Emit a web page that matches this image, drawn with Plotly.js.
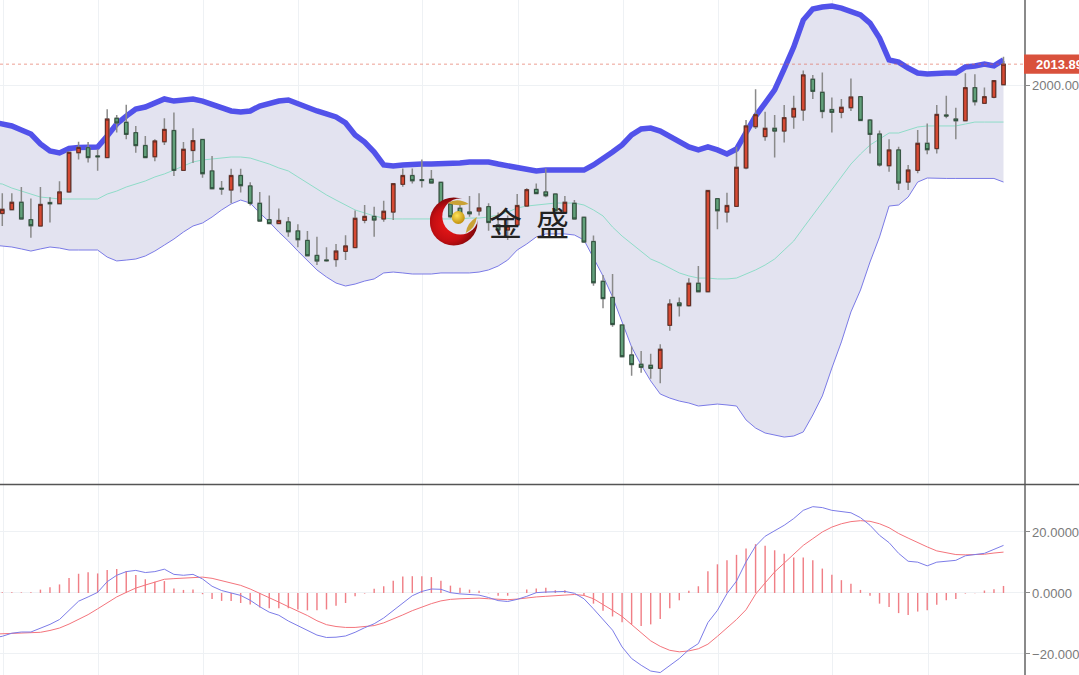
<!DOCTYPE html>
<html>
<head>
<meta charset="utf-8">
<script src="https://cdn.plot.ly/plotly-3.0.1.min.js"></script>
<style>html,body{margin:0;padding:0;background:#fff;overflow:hidden}#chart{width:1079px;height:675px}</style>
</head>
<body>
<div id="chart"></div>
<script>
const openPrice = [1914.4,1916.9,1921.8,1910.2,1906.0,1921.6,1920.9,1928.7,1954.9,1958.2,1952.7,1951.6,1977.8,1975.1,1968.2,1959.6,1952.2,1962.2,1969.6,1943.1,1956.4,1963.6,1942.7,1931.1,1930.0,1939.6,1932.7,1921.1,1910.2,1907.6,1908.7,1902.7,1896.4,1886.4,1883.3,1883.6,1889.1,1891.6,1909.8,1912.4,1910.7,1915.3,1933.8,1939.6,1936.9,1937.1,1935.1,1920.7,1917.8,1915.3,1916.0,1918.9,1906.7,1903.3,1906.7,1919.3,1930.4,1928.7,1927.3,1914.9,1921.1,1911.8,1895.6,1869.1,1858.4,1840.0,1820.0,1813.8,1813.1,1811.1,1839.8,1854.7,1852.9,1867.8,1862.2,1924.2,1915.3,1919.1,1944.7,1972.2,1965.6,1971.1,1969.3,1978.7,1983.3,2003.8,1995.1,1983.6,1981.8,1984.9,1992.2,1976.6,1967.3,1946.2,1956.7,1935.3,1943.1,1961.1,1957.6,1980.0,1977.3,1976.2,1998.2,1987.8,1991.8,2000.2];
const highPrice = [1927.8,1927.8,1932.0,1924.4,1932.0,1925.1,1935.8,1955.1,1962.2,1962.0,1957.1,1983.8,1980.0,1986.9,1972.7,1966.0,1963.8,1977.8,1981.6,1962.0,1971.1,1964.0,1952.7,1936.0,1944.2,1944.2,1935.1,1928.7,1926.4,1917.6,1912.0,1907.1,1902.7,1898.9,1891.8,1894.0,1899.8,1916.4,1920.0,1918.9,1922.9,1934.2,1944.4,1944.4,1950.4,1943.3,1935.6,1922.9,1921.0,1926.0,1927.8,1921.1,1915.0,1913.0,1927.3,1931.1,1934.4,1944.4,1927.8,1926.0,1923.3,1912.0,1899.6,1873.3,1874.0,1840.2,1825.6,1822.7,1820.9,1827.1,1857.1,1858.4,1871.1,1879.3,1929.6,1924.4,1928.2,1958.9,1976.7,1997.1,1982.2,1980.0,1986.7,1992.9,2009.6,2006.7,2008.4,1991.6,1990.7,2004.4,1992.4,1977.3,1969.6,1963.8,1958.9,1946.7,1970.0,1974.4,1986.7,1992.9,1984.9,2007.8,2007.1,1998.4,2003.3,2018.9];
const lowPrice = [1906.0,1916.7,1910.4,1898.2,1905.6,1908.4,1920.4,1928.7,1950.4,1948.4,1942.9,1951.6,1968.4,1963.8,1954.9,1951.3,1949.1,1960.0,1939.3,1943.1,1948.0,1938.2,1930.7,1926.9,1921.1,1928.4,1919.6,1909.3,1907.3,1907.1,1898.9,1891.8,1886.0,1880.0,1882.2,1878.9,1883.3,1891.6,1907.8,1898.9,1908.9,1910.0,1932.2,1934.4,1931.6,1934.4,1920.0,1911.1,1910.0,1912.2,1913.0,1902.9,1901.0,1896.7,1906.7,1918.9,1927.1,1925.1,1915.6,1914.9,1910.4,1894.9,1866.2,1851.1,1838.9,1818.9,1806.2,1808.2,1804.2,1801.1,1836.2,1845.6,1852.2,1862.2,1862.2,1903.8,1908.4,1919.1,1943.8,1970.7,1962.9,1951.6,1961.6,1970.9,1976.2,1990.7,1977.8,1968.4,1977.8,1982.7,1976.2,1954.4,1945.6,1942.2,1930.0,1930.0,1941.1,1953.8,1954.4,1977.8,1963.8,1976.2,1986.4,1987.8,1991.1,2000.2];
const closePrice = [1917.1,1921.8,1910.7,1906.2,1920.4,1920.9,1928.7,1955.1,1958.4,1951.6,1952.2,1977.3,1974.7,1967.1,1959.6,1951.6,1962.7,1970.4,1943.1,1957.1,1962.9,1940.9,1930.9,1930.7,1939.6,1932.9,1921.1,1909.3,1907.6,1909.6,1902.2,1896.9,1886.2,1882.7,1882.9,1889.3,1892.7,1911.1,1912.4,1910.0,1915.8,1934.2,1939.6,1936.2,1936.4,1934.7,1921.1,1912.2,1914.4,1914.2,1918.0,1908.4,1903.3,1906.0,1919.6,1930.2,1927.6,1926.2,1916.2,1921.8,1910.7,1895.3,1868.2,1857.6,1840.4,1818.9,1813.6,1811.8,1811.1,1823.8,1854.0,1852.9,1867.8,1862.2,1929.6,1916.2,1919.6,1945.1,1972.7,1980.2,1971.1,1969.3,1978.2,1984.4,2006.7,1995.8,1982.4,1981.8,1985.1,1992.0,1976.4,1967.1,1946.7,1956.7,1934.7,1943.3,1961.1,1956.9,1980.4,1979.4,1976.2,1998.2,1988.9,1992.2,2002.9,2013.89];

// Indicator series begin one bar before the first visible candle.
const upperBand = [1975.3,1974.0,1972.7,1970.0,1967.3,1960.7,1956.0,1954.7,1957.7,1958.3,1958.7,1958.7,1966.0,1974.0,1979.3,1984.0,1985.3,1988.0,1990.7,1989.3,1990.0,1990.7,1989.3,1987.3,1984.7,1982.7,1982.0,1982.7,1986.0,1988.0,1989.3,1990.0,1987.3,1984.7,1982.7,1980.7,1978.7,1974.7,1966.7,1962.0,1955.3,1946.7,1946.0,1946.7,1947.3,1947.3,1947.3,1947.3,1947.3,1948.0,1948.7,1948.7,1948.7,1947.3,1946.0,1944.7,1944.0,1942.7,1943.3,1943.3,1943.3,1943.3,1943.3,1946.7,1950.7,1955.3,1960.0,1966.7,1970.7,1971.3,1969.3,1966.0,1962.0,1958.7,1956.7,1958.7,1956.7,1954.0,1957.3,1968.7,1979.3,1988.0,1996.7,2010.7,2025.3,2043.3,2050.7,2052.0,2052.7,2051.3,2048.7,2046.7,2041.3,2031.3,2016.7,2015.3,2011.3,2008.0,2007.3,2008.0,2008.0,2008.0,2012.0,2012.7,2014.0,2012.7,2016.7];
const middleBand = [1934.7,1934.0,1931.3,1929.3,1927.3,1925.3,1924.7,1924.0,1924.0,1924.0,1924.0,1924.0,1927.3,1929.3,1932.0,1934.0,1936.0,1938.7,1940.7,1943.3,1946.0,1948.7,1950.0,1950.7,1951.3,1952.0,1952.0,1951.3,1949.3,1947.3,1944.7,1942.7,1938.7,1934.7,1930.7,1926.7,1923.3,1920.0,1916.7,1914.7,1912.7,1911.3,1910.7,1910.7,1910.7,1910.7,1910.7,1910.7,1910.7,1910.7,1911.3,1911.3,1912.0,1913.3,1915.3,1918.0,1919.3,1920.0,1920.7,1921.3,1921.3,1921.3,1920.0,1916.7,1912.7,1905.3,1899.3,1894.0,1888.7,1884.0,1881.3,1878.0,1874.7,1872.7,1871.3,1871.3,1870.7,1870.7,1871.3,1874.0,1876.7,1880.0,1884.0,1890.0,1896.0,1904.7,1913.3,1921.3,1930.0,1938.7,1947.3,1954.0,1960.0,1964.0,1968.0,1968.0,1970.0,1972.0,1972.7,1972.7,1972.7,1972.7,1974.0,1975.3,1975.3,1975.3,1975.3];
const lowerBand = [1893.3,1892.7,1892.0,1890.7,1889.3,1890.7,1892.0,1891.3,1890.0,1890.0,1890.0,1890.0,1885.3,1882.7,1883.3,1884.0,1886.0,1889.3,1893.3,1897.3,1902.0,1906.0,1908.0,1912.0,1916.7,1920.7,1923.3,1921.3,1914.7,1908.7,1902.0,1896.0,1889.3,1882.7,1876.7,1872.0,1868.0,1866.0,1867.3,1869.3,1870.7,1874.7,1875.3,1874.7,1874.0,1874.0,1874.0,1874.7,1874.7,1874.7,1874.7,1875.3,1876.7,1879.3,1883.3,1890.0,1894.0,1898.7,1900.7,1900.7,1900.7,1900.0,1896.7,1884.7,1872.7,1858.7,1841.3,1825.3,1813.3,1802.7,1794.0,1791.3,1789.3,1788.0,1786.0,1786.7,1787.3,1786.7,1786.0,1776.7,1771.3,1768.0,1766.7,1765.3,1766.0,1768.7,1780.0,1792.7,1811.3,1828.7,1848.7,1863.3,1882.0,1898.7,1919.3,1920.0,1925.3,1935.3,1938.0,1937.7,1937.7,1937.7,1937.7,1937.7,1937.7,1937.7,1935.3];

const macdBars = [0.2,0.2,0.2,0.2,1.1,1.9,2.8,4.9,6.3,6.8,6.4,7.5,7.9,7.2,5.9,4.5,3.7,3.9,1.5,1.0,1.1,-0.4,-2.0,-2.6,-2.6,-3.3,-3.8,-4.8,-5.0,-5.0,-5.0,-5.4,-5.7,-5.7,-5.4,-4.2,-3.3,-1.1,-0.2,1.4,2.2,4.0,5.4,5.5,5.5,5.2,4.0,2.4,1.7,1.1,0.7,-0.1,-0.9,-0.9,-0.1,1.1,1.5,1.7,0.9,0.9,0,-0.8,-3.5,-5.8,-7.7,-9.6,-10.3,-10.8,-10.3,-8.5,-5.0,-2.4,0.7,2.2,7.1,9.4,10.7,12.5,14.6,16.0,15.5,14.0,12.9,11.6,11.6,10.7,8.0,6.0,4.2,3.0,1.0,-0.9,-3.5,-4.6,-6.6,-7.2,-6.1,-5.7,-3.9,-2.4,-2.0,-0.2,-0.1,0.8,1.2,2.3];
const difLine = [-14.8,-14.2,-13.2,-12.8,-12.8,-11.6,-10.3,-8.7,-5.6,-2.7,-1.3,0.2,3.7,5.8,7.0,7.4,6.7,7.0,7.8,6.1,5.8,6.1,4.6,2.2,0.8,-0.1,-0.8,-2.4,-4.5,-6.3,-7.3,-9.2,-10.7,-12.3,-13.8,-14.6,-14.5,-14.1,-12.9,-11.4,-10.1,-8.2,-5.7,-3.1,-0.9,0.5,1.3,1.2,0.1,-0.3,-0.5,-0.7,-1.5,-2.5,-2.8,-2.1,-1.1,0.1,0.3,0.4,0.5,-0.1,-1.9,-5.2,-8.7,-12.2,-17.7,-21.5,-23.7,-25.6,-26.1,-23.8,-21.5,-18.6,-16.6,-9.7,-5.7,-0.2,3.9,10.2,15.4,18.6,20.3,22.2,24.4,27.1,28.3,28.0,27.1,26.7,26.3,24.7,22.2,18.9,16.5,13.0,10.4,10.1,8.9,10.1,10.4,10.7,12.2,12.7,13.0,14.3,15.6];
const deaLine = [-13.5,-13.4,-13.2,-13.1,-13.0,-12.9,-12.3,-11.5,-10.2,-8.7,-7.1,-5.2,-3.3,-1.3,0.2,1.6,2.6,3.5,4.5,4.7,4.8,5.0,5.2,4.8,4.0,3.4,2.5,1.3,-0.1,-1.4,-3.0,-4.5,-5.9,-7.4,-9.1,-10.4,-11.0,-11.3,-11.3,-11.1,-10.7,-9.8,-8.6,-7.2,-5.8,-4.6,-3.5,-2.6,-2.1,-1.9,-1.7,-1.7,-1.9,-2.1,-2.2,-2.0,-1.6,-1.3,-1.1,-0.8,-0.7,-0.5,-0.8,-1.9,-3.7,-5.7,-7.7,-10.3,-13.1,-15.7,-17.5,-18.8,-19.3,-19.0,-18.3,-16.8,-14.2,-11.5,-8.7,-5.5,-0.4,3.3,6.9,9.8,12.7,15.6,17.8,20.0,21.6,22.7,23.4,23.7,23.5,22.7,21.4,19.5,18.0,16.5,15.1,13.8,13.1,12.6,12.5,12.6,12.7,13.1,13.4];

const gridBars = [0.1,10.1,21.1,31.1,44.1,54.1,65.2,75.1,87.1,97.1];
const priceTicks = [2000];
const macdTicks = [-20,0,20];
const lastPrice = 2013.89;
const brandChars = ["金","盛"];

const barIndex = closePrice.map((_, i) => i);
const lineIndex = upperBand.map((_, i) => i - 1);
const bodyHigh = closePrice.map((c, i) => Math.max(c, openPrice[i]));
const bodyLow = closePrice.map((c, i) => Math.min(c, openPrice[i]));

const W = 1024.5, H = 675;
const px = x => x / W;
const py = y => 1 - y / H;

const logoSvg = `<svg xmlns="http://www.w3.org/2000/svg" width="96" height="98" viewBox="0 0 48 49">
<defs>
<radialGradient id="r" cx="0.42" cy="0.55" r="0.6"><stop offset="0" stop-color="#f01818"/><stop offset="0.6" stop-color="#c40e12"/><stop offset="1" stop-color="#6e0508"/></radialGradient>
<radialGradient id="g" cx="0.4" cy="0.35" r="0.7"><stop offset="0" stop-color="#ffe45a"/><stop offset="1" stop-color="#bd8a08"/></radialGradient>
<mask id="m"><rect width="48" height="49" fill="#fff"/><circle cx="30.5" cy="19.5" r="18" fill="#000"/></mask>
</defs>
<circle cx="24" cy="24.5" r="24" fill="url(#r)" mask="url(#m)"/>
<circle cx="28.5" cy="20.5" r="6.5" fill="url(#g)"/>
<path d="M18 6 Q28 0 39 7 Q28 10 18 6Z" fill="#c9a235"/>
<path d="M36 36 Q37 26 47 20 Q46 31 36 36Z" fill="#c9a235"/>
</svg>`;

const traces = [
  {type:'scatter',mode:'lines',x:lineIndex,y:lowerBand,line:{color:'#7a7ae6',width:1},xaxis:'x',yaxis:'y',hoverinfo:'skip'},
  {type:'scatter',mode:'lines',x:lineIndex,y:upperBand,fill:'tonexty',fillcolor:'#e3e3f0',line:{color:'#5252ea',width:5.5},xaxis:'x',yaxis:'y',hoverinfo:'skip'},
  {type:'scatter',mode:'lines',x:lineIndex,y:middleBand,line:{color:'#8fdcc8',width:1},xaxis:'x',yaxis:'y',hoverinfo:'skip'},
  {type:'candlestick',x:barIndex,open:openPrice,high:highPrice,low:lowPrice,close:closePrice,whiskerwidth:0,
   increasing:{line:{color:'#8a8a8a',width:1.5},fillcolor:'#8a8a8a'},decreasing:{line:{color:'#8a8a8a',width:1.5},fillcolor:'#8a8a8a'},xaxis:'x',yaxis:'y3',hoverinfo:'skip'},
  {type:'candlestick',x:barIndex,open:openPrice,high:bodyHigh,low:bodyLow,close:closePrice,whiskerwidth:0,
   increasing:{line:{color:'#5f2a22',width:1},fillcolor:'#d64a33'},decreasing:{line:{color:'#2e4f3c',width:1},fillcolor:'#62a07a'},xaxis:'x',yaxis:'y3',hoverinfo:'skip'},
  {type:'bar',x:barIndex,y:macdBars,width:0.15,marker:{color:'#f07f86',line:{width:0}},xaxis:'x',yaxis:'y2',hoverinfo:'skip'},
  {type:'scatter',mode:'lines',x:lineIndex,y:deaLine,line:{color:'#f4747c',width:1},xaxis:'x',yaxis:'y2',hoverinfo:'skip'},
  {type:'scatter',mode:'lines',x:lineIndex,y:difLine,line:{color:'#7c7ce8',width:1},xaxis:'x',yaxis:'y2',hoverinfo:'skip'}
];

const yCommon = {side:'right',anchor:'x',showline:true,linecolor:'#8a8a8a',linewidth:1.5,ticks:'outside',ticklen:4,tickcolor:'#8a8a8a',
  gridcolor:'#eef1f4',gridwidth:1,zeroline:false,ticklabeloverflow:'allow',tickfont:{family:'"Liberation Sans",Arial,sans-serif',size:13,color:'#7a7a7a'},tickmode:'array',fixedrange:true};
const priceRange = [1733.67,2056.67];

const layout = {
  width:1079,height:675,
  margin:{l:0,r:54.5,t:0,b:0,pad:0},
  paper_bgcolor:'#fff',plot_bgcolor:'#fff',
  showlegend:false,hovermode:false,boxgap:0.48,boxmode:'overlay',
  xaxis:{domain:[0,1],range:[-0.24,107.15],anchor:'y2',showticklabels:false,ticks:'',showline:false,zeroline:false,rangeslider:{visible:false},
    tickmode:'array',tickvals:gridBars,gridcolor:'#eef1f4',gridwidth:1,fixedrange:true},
  yaxis:Object.assign({},yCommon,{domain:[py(484.5),1],range:priceRange,tickvals:priceTicks,tickformat:'.2f'}),
  yaxis2:Object.assign({},yCommon,{domain:[0,py(484.5)],range:[-26.9,35.57],tickvals:macdTicks,tickformat:'.4f'}),
  yaxis3:{overlaying:'y',side:'right',anchor:'x',range:priceRange,visible:false,showgrid:false,zeroline:false,fixedrange:true},
  shapes:[
    {type:'line',xref:'paper',yref:'y',x0:0,x1:1,y0:lastPrice,y1:lastPrice,line:{color:'#e0604c',width:0.6,dash:'dot'},layer:'above'},
    {type:'rect',xref:'paper',yref:'y',x0:1,x1:1.06,y0:lastPrice-6.4,y1:lastPrice+6.4,fillcolor:'#d9513c',line:{width:0},layer:'above'},
    {type:'line',xref:'paper',yref:'paper',x0:0,x1:1.06,y0:py(484.5),y1:py(484.5),line:{color:'#555',width:1.5},layer:'above'}
  ],
  annotations:[
    {xref:'paper',yref:'y',x:px(1035),y:lastPrice,xanchor:'left',yanchor:'middle',text:String(lastPrice),showarrow:false,font:{family:'"Liberation Sans",Arial,sans-serif',size:13,color:'#fff',weight:700}},
    {xref:'paper',yref:'paper',x:px(506),y:py(222),xanchor:'center',yanchor:'middle',text:brandChars[0],showarrow:false,font:{family:'"Noto Sans CJK SC",sans-serif',size:33,color:'#222'}},
    {xref:'paper',yref:'paper',x:px(552.5),y:py(222),xanchor:'center',yanchor:'middle',text:brandChars[1],showarrow:false,font:{family:'"Noto Sans CJK SC",sans-serif',size:33,color:'#222'}}
  ],
  images:[{source:'data:image/svg+xml;charset=utf-8,'+encodeURIComponent(logoSvg),xref:'paper',yref:'paper',x:px(430),y:py(197),sizex:48/W,sizey:49/H,xanchor:'left',yanchor:'top',sizing:'stretch',layer:'above'}]
};

Plotly.newPlot('chart',traces,layout,{displayModeBar:false,staticPlot:true});
</script>
</body>
</html>
